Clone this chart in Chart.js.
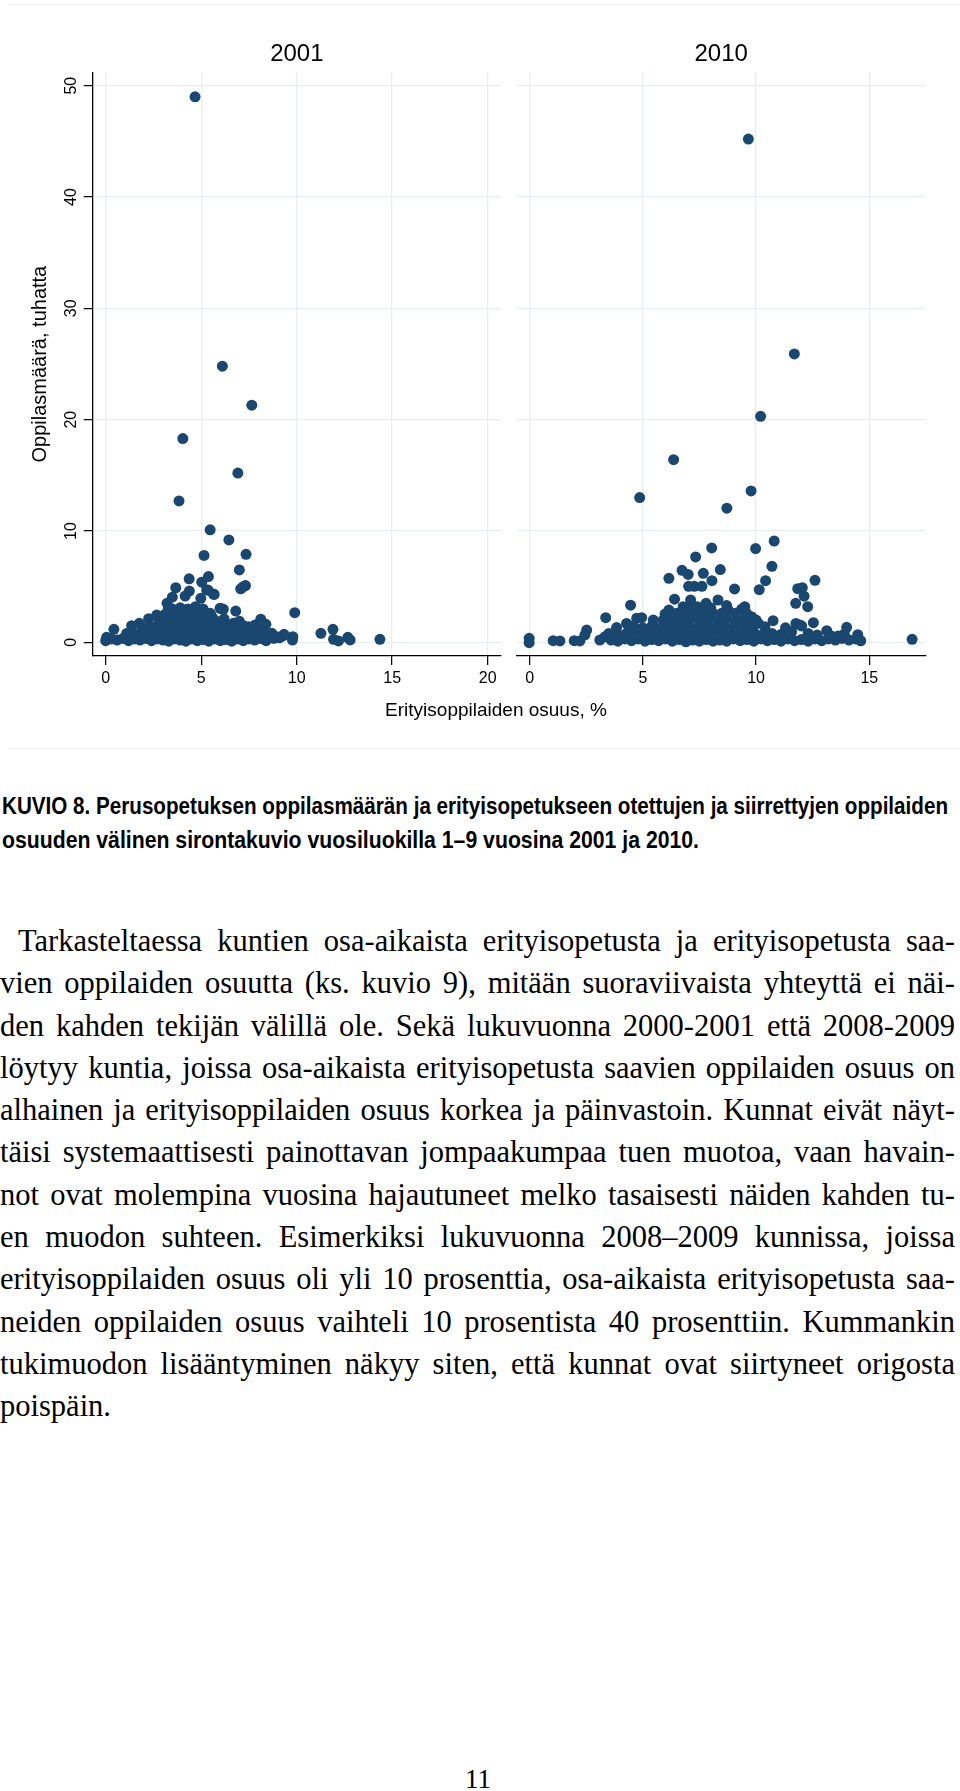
<!DOCTYPE html>
<html lang="fi">
<head>
<meta charset="utf-8">
<title>Kuvio 8 — sirontakuvio 2001 ja 2010</title>
<script src="https://cdn.jsdelivr.net/npm/chart.js@4.4.1/dist/chart.umd.min.js"></script>
<style>
  html, body { margin: 0; padding: 0; background: #fff; }
  body { width: 960px; height: 1791px; position: relative; overflow: hidden; color: #000;
         font-family: "Liberation Sans", Arial, sans-serif; }
  .frame { position: absolute; left: 8px; top: 4px; width: 952px; height: 743px;
           border-top: 1px solid #eeeeee; border-bottom: 1px solid #eeeeee; }
  #c2001 { position: absolute; left: 0; top: 0; }
  #c2010 { position: absolute; left: 510px; top: 0; }
  .xtitle { position: absolute; left: 0; width: 992px; top: 698px; line-height: 24px;
            text-align: center; font-size: 19px; }
  .cap { position: absolute; left: 2px; font: bold 23px "Liberation Sans", Arial, sans-serif;
         line-height: 24px; white-space: nowrap; }
  .cap span { display: inline-block; transform-origin: 0 50%; }
  .txt { position: absolute; left: 0; top: 920px; width: 955px;
         font: 30.5px "Liberation Serif", "Times New Roman", serif; line-height: 42.3px; }
  .txt div { text-align: justify; text-align-last: justify; white-space: nowrap; }
  .txt div.first { text-indent: 18px; }
  .txt div.last { text-align: left; text-align-last: left; }
  .pageno { position: absolute; left: 0; width: 956px; top: 1764px; line-height: 30px; text-align: center;
            font: 27px "Liberation Serif", "Times New Roman", serif; }
</style>
</head>
<body>
<div class="frame"></div>
<canvas id="c2001" width="510" height="750"></canvas>
<canvas id="c2010" width="450" height="750"></canvas>
<div class="xtitle">Erityisoppilaiden osuus, %</div>

<div class="cap" style="top:794px"><span data-w="946">KUVIO 8. Perusopetuksen oppilasmäärän ja erityisopetukseen otettujen ja siirrettyjen oppilaiden</span></div>
<div class="cap" style="top:828px"><span data-w="697">osuuden välinen sirontakuvio vuosiluokilla 1–9 vuosina 2001 ja 2010.</span></div>

<div class="txt">
  <div class="first">Tarkasteltaessa kuntien osa-aikaista erityisopetusta ja erityisopetusta saa-</div>
  <div>vien oppilaiden osuutta (ks. kuvio 9), mitään suoraviivaista yhteyttä ei näi-</div>
  <div>den kahden tekijän välillä ole. Sekä lukuvuonna 2000-2001 että 2008-2009</div>
  <div>löytyy kuntia, joissa osa-aikaista erityisopetusta saavien oppilaiden osuus on</div>
  <div>alhainen ja erityisoppilaiden osuus korkea ja päinvastoin. Kunnat eivät näyt-</div>
  <div>täisi systemaattisesti painottavan jompaakumpaa tuen muotoa, vaan havain-</div>
  <div>not ovat molempina vuosina hajautuneet melko tasaisesti näiden kahden tu-</div>
  <div>en muodon suhteen. Esimerkiksi lukuvuonna 2008–2009 kunnissa, joissa</div>
  <div>erityisoppilaiden osuus oli yli 10 prosenttia, osa-aikaista erityisopetusta saa-</div>
  <div>neiden oppilaiden osuus vaihteli 10 prosentista 40 prosenttiin. Kummankin</div>
  <div>tukimuodon lisääntyminen näkyy siten, että kunnat ovat siirtyneet origosta</div>
  <div class="last">poispäin.</div>
</div>
<div class="pageno">11</div>

<script>
// ---------- data (luettu kuvasta) ----------
var PANEL_TITLES = ['2001', '2010'];
var Y_TICKS = [0, 10, 20, 30, 40, 50];
var Y_RANGE = [-1.23, 51.2];
var X_TICKS_2001 = [0, 5, 10, 15, 20];
var X_TICKS_2010 = [0, 5, 10, 15];
var X_RANGE_2001 = [-0.68, 20.7];
var X_RANGE_2010 = [-0.57, 17.49];

// [erityisoppilaiden osuus %, oppilasmäärä tuhatta]
var PTS_2001 = [
  [4.68,49.0],[6.11,24.8],[7.65,21.3],[4.04,18.3],[6.92,15.2],[3.84,12.7],
  [5.47,10.1],[6.45,9.2],[5.15,7.8],[7.35,7.9],[7.0,6.5],[5.38,5.9],
  [4.37,5.7],[5.03,5.4],[3.67,4.9],[7.32,5.1],[7.07,4.8],[7.2,5.0],[4.38,4.6],[5.68,4.3],
  [4.16,4.15],[3.49,4.05],[5.29,4.7],[4.98,3.95],[5.99,3.06],[6.16,2.97],[6.81,2.81],[9.9,2.66],
  [3.21,3.5],[3.28,3.06],[2.67,2.45],[2.25,2.12],[1.76,1.71],[1.36,1.49],[0.43,1.17],
  [8.12,2.07],[8.26,1.71],[8.39,1.62],[11.27,0.81],[11.9,1.17],[11.93,0.27],[12.19,0.12],
  [12.68,0.45],[12.8,0.21],[14.36,0.27],
  [9.8,0.5],[9.78,0.2],[9.28,0.57],[9.34,0.72],[8.8,0.35],[8.7,0.81],[8.96,0.5],
  [7.47,1.4],[7.82,1.56],[5.9,1.85],[6.69,1.71],[5.47,2.6],[5.64,4.34],[5.35,4.7],[6.04,3.02],
  [0.0,0.15],[0.05,0.45],[0.3,0.3],[0.6,0.2],[0.9,0.35],[1.2,0.15],[1.5,0.3],[1.8,0.2],
  [2.1,0.35],[2.4,0.15],[2.7,0.3],[3.0,0.2],[3.3,0.1],[3.6,0.3],[3.9,0.2],[4.2,0.1],
  [4.5,0.3],[4.8,0.15],[5.1,0.25],[5.4,0.1],[5.7,0.3],[6.0,0.15],[6.3,0.25],[6.6,0.1],
  [6.9,0.3],[7.2,0.15],[7.5,0.3],[7.8,0.2],[8.1,0.35],[8.4,0.15],[9.1,0.4],
  [1.1,0.8],[1.5,0.75],[1.9,0.9],[2.3,0.8],[2.7,0.95],[3.1,0.8],[3.5,0.9],[3.9,0.75],
  [4.3,0.9],[4.7,0.8],[5.1,0.95],[5.5,0.8],[5.9,0.9],[6.3,0.75],[6.7,0.85],[7.1,0.8],
  [7.5,0.9],[7.9,0.8],[8.3,0.85],
  [1.9,1.3],[2.3,1.5],[2.7,1.4],[3.1,1.55],[3.5,1.4],[3.9,1.5],[4.3,1.35],[4.7,1.5],
  [5.1,1.4],[5.5,1.5],[5.9,1.3],[6.3,1.45],[6.8,1.35],[7.2,1.5],[8.0,1.3],
  [2.8,2.0],[3.2,2.2],[3.6,2.0],[4.0,2.2],[4.4,2.0],[4.8,2.2],[5.2,2.0],[5.6,2.2],[6.2,2.1],[7.0,1.9],
  [3.1,2.5],[3.5,2.6],[3.9,2.4],[4.3,2.6],[4.7,2.5],[5.1,2.7],[5.5,2.5],
  [3.5,3.0],[3.9,3.1],[4.3,3.0],[4.7,3.2],[5.1,3.0]
];

var PTS_2010 = [
  [9.66,45.2],[11.69,25.9],[10.2,20.3],[6.36,16.4],[4.86,13.0],[9.78,13.6],[8.71,12.05],
  [10.8,9.1],[8.04,8.48],[9.98,8.42],[7.33,7.67],[10.7,6.83],[6.73,6.47],[7.0,6.1],[7.67,6.2],[8.42,6.53],
  [6.15,5.75],[8.05,5.54],[10.42,5.54],[12.6,5.57],[7.02,5.03],[7.27,5.03],[7.61,5.03],[9.05,4.79],
  [10.14,4.73],[11.84,4.82],[12.04,4.91],[12.12,4.14],
  [6.4,3.87],[7.11,3.8],[8.32,3.8],[11.75,3.5],[12.28,3.2],[7.79,3.5],[6.78,3.2],[4.46,3.33],
  [6.15,2.9],[5.98,2.54],[3.36,2.21],
  [10.75,1.94],[12.53,1.76],[14.0,1.35],[16.89,0.27],[-0.02,0.36],[-0.02,-0.03],[1.04,0.15],
  [1.34,0.12],[1.97,0.15],[2.22,0.12],[2.52,1.1],[2.44,0.66],
  [3.84,1.32],[4.36,1.55],[4.73,2.16],[4.95,2.21],[5.46,2.0],[13.12,1.04],[14.49,0.68],[14.62,0.14],
  [13.63,0.57],[11.57,0.95],[11.94,1.56],[11.76,1.7],[12.01,1.47],
  [9.36,2.97],[9.58,2.6],[9.8,2.3],[8.77,2.9],[8.48,2.6],[10.1,1.71],[10.39,1.4],[4.28,1.7],
  [3.1,0.2],[3.33,0.5],
  [3.6,0.2],[3.9,0.1],[4.2,0.3],[4.5,0.15],[4.8,0.3],[5.1,0.1],[5.4,0.25],[5.7,0.15],
  [6.0,0.3],[6.3,0.1],[6.6,0.25],[6.9,0.05],[7.2,0.2],[7.5,0.1],[7.8,0.25],[8.1,0.1],
  [8.4,0.2],[8.7,0.1],[9.0,0.3],[9.3,0.15],[9.6,0.25],[9.9,0.1],[10.2,0.3],[10.5,0.15],
  [10.8,0.25],[11.1,0.1],[11.4,0.3],[11.7,0.15],[12.0,0.25],[12.3,0.1],[12.6,0.3],[12.9,0.15],
  [13.2,0.3],[13.5,0.2],[13.8,0.35],[14.1,0.2],[14.4,0.3],
  [3.5,0.8],[3.9,0.7],[4.3,0.85],[4.7,0.75],[5.1,0.9],[5.5,0.7],[5.9,0.85],[6.3,0.75],
  [6.7,0.9],[7.1,0.7],[7.5,0.85],[7.9,0.75],[8.3,0.9],[8.7,0.7],[9.1,0.85],[9.5,0.75],
  [9.9,0.9],[10.3,0.7],[10.7,0.8],[11.1,0.7],[12.3,0.8],[12.7,0.65],[13.3,0.6],[13.9,0.75],
  [4.6,1.4],[5.0,1.3],[5.4,1.45],[5.8,1.35],[6.2,1.5],[6.6,1.4],[7.0,1.5],[7.4,1.35],
  [7.8,1.5],[8.2,1.4],[8.6,1.5],[9.0,1.35],[9.4,1.5],[9.8,1.4],[11.3,1.3],
  [5.9,2.0],[6.3,2.1],[6.7,1.95],[7.1,2.1],[7.5,2.0],[7.9,2.15],[8.3,2.0],[8.7,2.1],
  [9.1,2.0],[9.5,2.1],[10.0,2.0],
  [6.5,2.6],[6.9,2.7],[7.3,2.55],[7.7,2.7],[8.1,2.6],[9.1,2.6],
  [7.0,3.1],[7.4,3.2],[8.0,3.1],[8.7,3.3],[9.5,3.2]
];

(function () {
  var FONT = '"Liberation Sans", Arial, sans-serif';
  var NAVY = '#1a476f';
  var GRID = '#e6eef1';

  Chart.defaults.font.family = FONT;
  Chart.defaults.color = '#000';

  // otsikko paneelin piirtoalueen keskelle (kuten Statan by()-kuvassa)
  var panelTitle = {
    id: 'panelTitle',
    afterDraw: function (chart, args, opts) {
      var ctx = chart.ctx, a = chart.chartArea;
      ctx.save();
      ctx.font = '24px ' + FONT;
      ctx.fillStyle = '#000';
      ctx.textAlign = 'center';
      ctx.textBaseline = 'middle';
      ctx.fillText(opts.text, (a.left + a.right) / 2, 54);
      ctx.restore();
    }
  };

  function fixedTicks(list) {
    return function (s) { s.ticks = list.map(function (v) { return { value: v }; }); };
  }

  function panel(id, title, pts, xTicks, xRange, withYAxis, yWidth, padRight) {
    var yScale = {
      type: 'linear', min: Y_RANGE[0], max: Y_RANGE[1],
      afterBuildTicks: fixedTicks(Y_TICKS),
      afterFit: function (s) { s.width = yWidth; },
      grid: { color: GRID, lineWidth: 1.3, drawTicks: withYAxis, tickColor: '#000', tickLength: 9, tickWidth: 1.2 },
      border: { display: withYAxis, color: '#000', width: 1.3 },
      ticks: { display: withYAxis, minRotation: 90, maxRotation: 90, crossAlign: 'center', padding: 3,
               color: '#000', font: { size: 16 } },
      title: { display: withYAxis, text: 'Oppilasmäärä, tuhatta', color: '#000',
               font: { size: 20 }, padding: { top: 28, bottom: 0 } }
    };
    return new Chart(document.getElementById(id), {
      type: 'scatter',
      data: {
        datasets: [{
          data: pts.map(function (p) { return { x: p[0], y: p[1] }; }),
          backgroundColor: NAVY, borderColor: NAVY, borderWidth: 0,
          pointRadius: 5.5, pointHoverRadius: 5.5
        }]
      },
      options: {
        responsive: false, maintainAspectRatio: false, animation: false,
        layout: { padding: { top: 72.3, right: padRight, bottom: 0, left: 0 } },
        plugins: { legend: { display: false }, tooltip: { enabled: false }, panelTitle: { text: title } },
        scales: {
          x: {
            type: 'linear', min: xRange[0], max: xRange[1],
            afterBuildTicks: fixedTicks(xTicks),
            afterFit: function (s) { s.height = 94; },
            grid: { color: GRID, lineWidth: 1.3, tickColor: '#000', tickLength: 9, tickWidth: 1.2 },
            border: { color: '#000', width: 1.3 },
            ticks: { color: '#000', font: { size: 16 }, padding: 4, minRotation: 0, maxRotation: 0 }
          },
          y: yScale
        }
      },
      plugins: [panelTitle]
    });
  }

  panel('c2001', PANEL_TITLES[0], PTS_2001, X_TICKS_2001, X_RANGE_2001, true, 92.7, 9);
  panel('c2010', PANEL_TITLES[1], PTS_2010, X_TICKS_2010, X_RANGE_2010, false, 6.7, 34.3);

  // kuvateksti: kavennetaan rivit alkuperäiseen leveyteen
  document.querySelectorAll('.cap span').forEach(function (el) {
    var w = el.getBoundingClientRect().width, target = +el.getAttribute('data-w');
    if (w > 0) el.style.transform = 'scaleX(' + (target / w) + ')';
  });
})();
</script>
</body>
</html>
